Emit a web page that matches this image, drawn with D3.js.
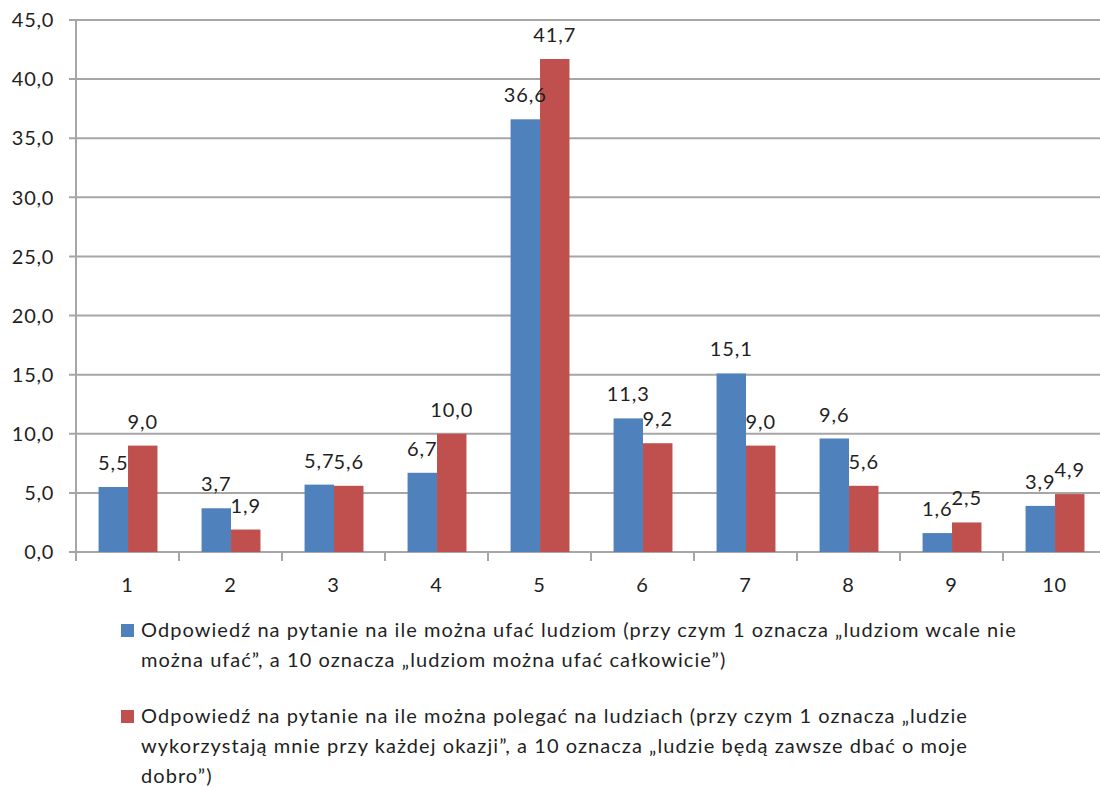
<!DOCTYPE html>
<html>
<head>
<meta charset="utf-8">
<script src="https://cdn.jsdelivr.net/npm/d3@7"></script>
<style>
  html, body { margin: 0; padding: 0; background: #fff; }
  svg { display: block; }
  text { font-family: Lato, "Liberation Sans", sans-serif; fill: #1f1f1f; }
</style>
</head>
<body>
<svg id="chart" width="1100" height="787"></svg>
<script>
const categories = ["1", "2", "3", "4", "5", "6", "7", "8", "9", "10"];
const seriesNames = ["ufać", "polegać"];
const trustValues = [5.5, 3.7, 5.7, 6.7, 36.6, 11.3, 15.1, 9.6, 1.6, 3.9];
const relyValues = [9.0, 1.9, 5.6, 10.0, 41.7, 9.2, 9.0, 5.6, 2.5, 4.9];
const yTicks = [0, 5, 10, 15, 20, 25, 30, 35, 40, 45];
const seriesColors = ["#4F81BD", "#C0504D"];
const legendLines = [
  ["Odpowiedź na pytanie na ile można ufać ludziom (przy czym 1 oznacza „ludziom wcale nie",
   "można ufać”, a 10 oznacza „ludziom można ufać całkowicie”)"],
  ["Odpowiedź na pytanie na ile można polegać na ludziach (przy czym 1 oznacza „ludzie",
   "wykorzystają mnie przy każdej okazji”, a 10 oznacza „ludzie będą zawsze dbać o moje",
   "dobro”)"]
];

const svg = d3.select("#chart");
const fmt = v => v.toFixed(1).replace(".", ",");
const gridColor = "#A6A6A6";

const y = d3.scaleLinear().domain([0, 45]).range([552, 20]);
const x0 = d3.scaleBand().domain(categories).range([76, 1106]);
const bw = x0.bandwidth();
const x1 = d3.scaleBand().domain(seriesNames).range([bw * 0.219, bw * 0.791]);

// gridlines
svg.append("g").selectAll("line").data(yTicks).join("line")
  .attr("x1", 69).attr("x2", 1106)
  .attr("y1", d => y(d)).attr("y2", d => y(d))
  .attr("stroke", gridColor).attr("stroke-width", 2);

// y labels
svg.append("g").selectAll("text").data(yTicks).join("text")
  .attr("x", 54).attr("y", d => y(d)).attr("dy", "0.36em")
  .attr("text-anchor", "end").style("font-size", "20px").style("letter-spacing", "0.7px")
  .text(d => fmt(d));

// y axis line
svg.append("line").attr("x1", 76).attr("x2", 76).attr("y1", y(45)).attr("y2", y(0))
  .attr("stroke", gridColor).attr("stroke-width", 2);

// x ticks at band boundaries
const boundaries = categories.map(c => x0(c)).concat([x0(categories[categories.length - 1]) + bw]);
svg.append("g").selectAll("line").data(boundaries).join("line")
  .attr("x1", d => d).attr("x2", d => d)
  .attr("y1", y(0)).attr("y2", y(0) + 9)
  .attr("stroke", gridColor).attr("stroke-width", 2);

// x labels
svg.append("g").selectAll("text").data(categories).join("text")
  .attr("x", d => x0(d) + bw / 2).attr("y", 592)
  .attr("text-anchor", "middle").style("font-size", "20px").style("letter-spacing", "0.7px")
  .text(d => d);

// bars
const rows = categories.map((c, i) => ({ c, vals: [trustValues[i], relyValues[i]] }));
const groups = svg.append("g").selectAll("g").data(rows).join("g")
  .attr("transform", d => `translate(${x0(d.c)},0)`);

groups.selectAll("rect").data(d => d.vals.map((v, j) => ({ v, s: seriesNames[j], j })))
  .join("rect")
  .attr("x", d => x1(d.s)).attr("width", x1.bandwidth())
  .attr("y", d => y(d.v)).attr("height", d => y(0) - y(d.v))
  .attr("fill", d => seriesColors[d.j]);

groups.selectAll("text").data(d => d.vals.map((v, j) => ({ v, s: seriesNames[j], j })))
  .join("text")
  .attr("x", d => x1(d.s) + x1.bandwidth() / 2)
  .attr("y", d => y(d.v) - 17)
  .attr("text-anchor", "middle").style("font-size", "20px").style("letter-spacing", "0.9px")
  .text(d => fmt(d.v));

// legend
const legendTop = [637, 723];
const lh = 30;
legendLines.forEach((lines, i) => {
  const g = svg.append("g");
  g.append("rect").attr("x", 121).attr("y", legendTop[i] - 13).attr("width", 13).attr("height", 13)
    .attr("fill", seriesColors[i]);
  lines.forEach((t, k) => {
    g.append("text").attr("x", 141).attr("y", legendTop[i] + k * lh)
      .style("font-size", "20px").style("letter-spacing", "1.05px").text(t);
  });
});
</script>
</body>
</html>
